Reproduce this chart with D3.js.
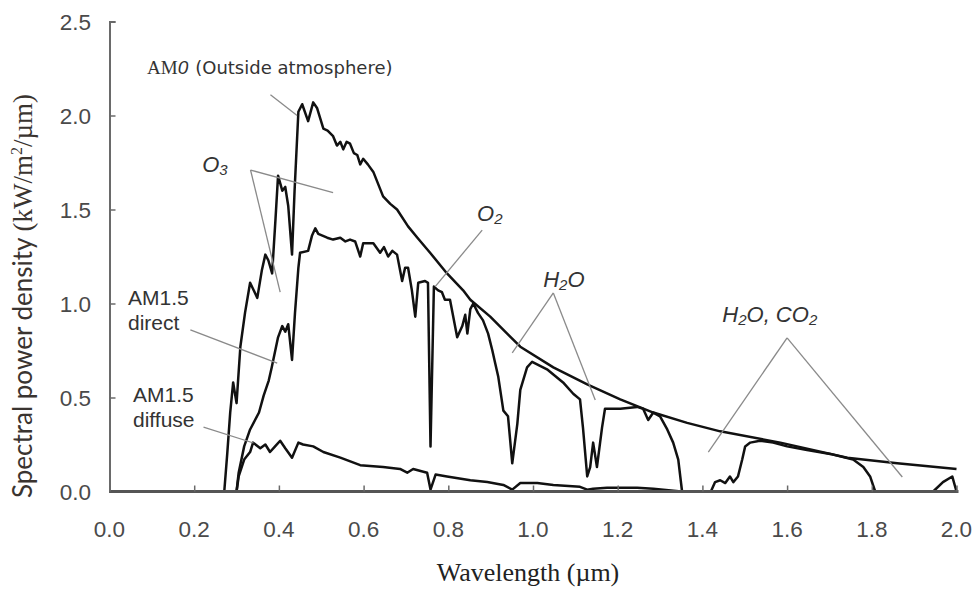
<!DOCTYPE html>
<html>
<head>
<meta charset="utf-8">
<script src="https://cdn.jsdelivr.net/npm/d3@7"></script>
<style>
  html, body { margin: 0; padding: 0; background: #fff; }
  svg { display: block; }
</style>
</head>
<body>
<svg id="chart" width="980" height="589"></svg>
<script>
// Solar spectral irradiance: extraterrestrial (AM0) and ground-level AM1.5 spectra.
// Each series is a list of [wavelength (µm), spectral power density (kW/m²/µm)].

const am0 = [
  [0.25, 0], [0.271, 0], [0.278, 0.2], [0.285, 0.42], [0.292, 0.58], [0.30, 0.47],
  [0.309, 0.77], [0.32, 0.95], [0.332, 1.11], [0.349, 1.03], [0.36, 1.18],
  [0.368, 1.26], [0.375, 1.23], [0.384, 1.16], [0.392, 1.45], [0.398, 1.68],
  [0.408, 1.60], [0.415, 1.62], [0.422, 1.52], [0.431, 1.26], [0.437, 1.60],
  [0.446, 2.02], [0.455, 2.06], [0.469, 1.97], [0.481, 2.07], [0.49, 2.04],
  [0.505, 1.93], [0.515, 1.92], [0.528, 1.89], [0.537, 1.84], [0.545, 1.86],
  [0.552, 1.82], [0.56, 1.86], [0.568, 1.85], [0.577, 1.80], [0.585, 1.79],
  [0.592, 1.74], [0.599, 1.77], [0.61, 1.74], [0.623, 1.70], [0.646, 1.57],
  [0.663, 1.53], [0.679, 1.50], [0.705, 1.41], [0.727, 1.35], [0.757, 1.27],
  [0.797, 1.16], [0.835, 1.07], [0.852, 1.02], [0.899, 0.93], [0.97, 0.77],
  [1.048, 0.66], [1.128, 0.57], [1.206, 0.49], [1.284, 0.42], [1.364, 0.365],
  [1.442, 0.32], [1.584, 0.26], [1.742, 0.18], [1.86, 0.15], [2.0, 0.12]
];

const am15Direct = [
  [0.25, 0], [0.30, 0], [0.305, 0.10], [0.318, 0.24], [0.332, 0.33], [0.353, 0.42],
  [0.364, 0.51], [0.376, 0.59], [0.383, 0.66], [0.398, 0.82], [0.408, 0.88],
  [0.415, 0.85], [0.422, 0.89], [0.431, 0.70], [0.438, 0.95], [0.446, 1.19],
  [0.45, 1.27], [0.469, 1.28], [0.478, 1.36], [0.486, 1.40], [0.493, 1.37],
  [0.514, 1.35], [0.528, 1.34], [0.545, 1.35], [0.557, 1.33], [0.568, 1.34],
  [0.58, 1.33], [0.592, 1.25], [0.599, 1.32], [0.623, 1.32], [0.639, 1.27],
  [0.648, 1.30], [0.658, 1.25], [0.668, 1.28], [0.679, 1.26], [0.691, 1.12],
  [0.698, 1.19], [0.705, 1.19], [0.714, 1.07], [0.722, 0.93], [0.729, 1.11],
  [0.745, 1.12], [0.752, 1.11], [0.758, 0.24], [0.766, 1.09], [0.776, 1.07],
  [0.785, 1.06], [0.792, 1.02], [0.804, 1.02], [0.821, 0.82], [0.833, 0.88],
  [0.84, 0.94], [0.845, 0.84], [0.852, 0.97], [0.859, 1.00], [0.87, 0.95],
  [0.882, 0.91], [0.894, 0.84], [0.904, 0.75], [0.911, 0.68], [0.918, 0.61],
  [0.93, 0.43], [0.941, 0.40], [0.951, 0.15], [0.963, 0.36], [0.97, 0.54],
  [0.986, 0.66], [0.998, 0.69], [1.033, 0.65], [1.071, 0.58], [1.095, 0.52],
  [1.111, 0.49], [1.118, 0.34], [1.128, 0.08], [1.135, 0.13], [1.142, 0.26],
  [1.151, 0.13], [1.163, 0.34], [1.17, 0.44], [1.206, 0.44], [1.246, 0.45],
  [1.26, 0.44], [1.272, 0.38], [1.284, 0.42], [1.30, 0.40], [1.317, 0.33],
  [1.331, 0.26], [1.343, 0.17], [1.352, 0], [1.42, 0], [1.43, 0.05],
  [1.442, 0.06], [1.454, 0.045], [1.465, 0.08], [1.473, 0.05], [1.484, 0.08],
  [1.494, 0.17], [1.501, 0.24], [1.513, 0.26], [1.536, 0.27], [1.567, 0.26],
  [1.60, 0.24], [1.647, 0.22], [1.702, 0.20], [1.756, 0.17], [1.78, 0.13],
  [1.796, 0.08], [1.808, 0], [1.945, 0], [1.968, 0.05], [1.99, 0.08], [2.0, 0]
];

const am15Diffuse = [
  [0.25, 0], [0.30, 0], [0.305, 0.08], [0.318, 0.17], [0.332, 0.21], [0.339, 0.26],
  [0.356, 0.23], [0.368, 0.25], [0.379, 0.21], [0.391, 0.24], [0.403, 0.27],
  [0.415, 0.23], [0.431, 0.18], [0.446, 0.26], [0.457, 0.25], [0.481, 0.24],
  [0.505, 0.21], [0.545, 0.18], [0.592, 0.14], [0.646, 0.13], [0.686, 0.12],
  [0.703, 0.10], [0.717, 0.12], [0.75, 0.10], [0.758, 0.01], [0.77, 0.09],
  [0.797, 0.08], [0.852, 0.06], [0.892, 0.05], [0.93, 0.035], [0.951, 0.01],
  [0.97, 0.045], [1.01, 0.045], [1.048, 0.035], [1.111, 0.025], [1.128, 0.01],
  [1.142, 0.015], [1.175, 0.02], [1.246, 0.02], [1.284, 0.015], [1.35, 0],
  [2.0, 0]
];

const xTicks = [0, 0.2, 0.4, 0.6, 0.8, 1.0, 1.2, 1.4, 1.6, 1.8, 2.0];
const yTicks = [0, 0.5, 1.0, 1.5, 2.0, 2.5];

// Absorption-band callouts: label anchor plus leader lines, in data units.
const callouts = [
  { parts: [{ t: "O", italic: true }, { t: "3", italic: true, sub: true }],
    at: [0.219, 1.70], from: [0.333, 1.71], to: [[0.528, 1.59], [0.403, 1.06]] },
  { parts: [{ t: "O", italic: true }, { t: "2", italic: true, sub: true }],
    at: [0.868, 1.44], from: [0.88, 1.39], to: [[0.769, 1.09]] },
  { parts: [{ t: "H", italic: true }, { t: "2", italic: true, sub: true }, { t: "O", italic: true }],
    at: [1.024, 1.09], from: [1.048, 1.056], to: [[0.951, 0.737], [1.147, 0.487]] },
  { parts: [{ t: "H", italic: true }, { t: "2", italic: true, sub: true }, { t: "O, CO", italic: true },
            { t: "2", italic: true, sub: true }],
    at: [1.447, 0.90], from: [1.60, 0.817], to: [[1.414, 0.21], [1.872, 0.077]] }
];

const svg = d3.select("#chart");

const x = d3.scaleLinear().domain([0, 2]).range([109.5, 956.5]);
const y = d3.scaleLinear().domain([0, 2.5]).range([491.5, 21.5]);

// Axes: ticks point inward, labels drawn separately for font control.
const axisColor = "#6a6a6a";
const yAxis = svg.append("g").attr("transform", `translate(${x(0)},0)`)
  .call(d3.axisLeft(y).tickValues(yTicks).tickSize(-6).tickFormat(""));
yAxis.select(".domain").attr("stroke", axisColor).attr("stroke-width", 2);
yAxis.selectAll(".tick line").attr("stroke", axisColor).attr("stroke-width", 1.5);

svg.append("g").selectAll("text").data(yTicks).join("text")
  .attr("x", 91).attr("y", d => y(d) + 8)
  .attr("text-anchor", "end")
  .attr("font-family", "Liberation Sans, Arial, sans-serif")
  .attr("font-size", 22.5).attr("fill", "#4a4a4a")
  .text(d => d.toFixed(1));

svg.append("g").selectAll("text").data(xTicks).join("text")
  .attr("x", d => x(d)).attr("y", 537)
  .attr("text-anchor", "middle")
  .attr("font-family", "Liberation Sans, Arial, sans-serif")
  .attr("font-size", 22.5).attr("fill", "#4a4a4a")
  .text(d => d.toFixed(1));

// Spectrum curves
const line = d3.line().x(d => x(d[0])).y(d => y(d[1])).curve(d3.curveLinear);
const curves = svg.append("g").attr("fill", "none").attr("stroke", "#111")
  .attr("stroke-width", 2.5).attr("stroke-linejoin", "round");
[am15Diffuse, am15Direct, am0].forEach(s => curves.append("path").attr("d", line(s)));

const xAxis = svg.append("g").attr("transform", `translate(0,${y(0)})`)
  .call(d3.axisBottom(x).tickValues(xTicks).tickSize(-6).tickFormat(""));
xAxis.select(".domain").attr("stroke", "#555").attr("stroke-width", 3)
  .attr("d", `M${x(0)},0H${x(2) + 2}`);
xAxis.selectAll(".tick line").attr("stroke", axisColor).attr("stroke-width", 1.5);

// Leader lines
const leaders = svg.append("g").attr("stroke", "#8a8a8a").attr("stroke-width", 1.3).attr("fill", "none");
function leader(a, b) {
  leaders.append("line").attr("x1", x(a[0])).attr("y1", y(a[1]))
    .attr("x2", x(b[0])).attr("y2", y(b[1]));
}
callouts.forEach(c => c.to.forEach(t => leader(c.from, t)));
leader([0.38, 2.11], [0.443, 2.0]);      // AM0
leader([0.191, 0.86], [0.396, 0.683]);   // AM1.5 direct
leader([0.222, 0.343], [0.34, 0.258]);   // AM1.5 diffuse

// Callout labels
const labelFont = "Liberation Sans, Arial, sans-serif";
callouts.forEach(c => {
  const t = svg.append("text")
    .attr("x", x(c.at[0])).attr("y", y(c.at[1]))
    .attr("font-family", labelFont).attr("font-size", 22).attr("fill", "#333");
  c.parts.forEach(p => {
    const ts = t.append("tspan").text(p.t).attr("font-style", p.italic ? "italic" : null);
    if (p.sub) ts.attr("font-size", 15).attr("dy", 3);
    else if (t.selectAll("tspan").size() > 1) ts.attr("dy", -3);
  });
});

// Curve name labels
function twoLine(a, b, px, py) {
  const t = svg.append("text").attr("font-family", labelFont).attr("font-size", 21)
    .attr("fill", "#333");
  t.append("tspan").attr("x", px).attr("y", py).text(a);
  t.append("tspan").attr("x", px).attr("y", py + 25).text(b);
}
twoLine("AM1.5", "direct", 128, 305);
twoLine("AM1.5", "diffuse", 133, 402);

const am0Label = svg.append("text").attr("x", 147).attr("y", 74).attr("fill", "#333");
am0Label.append("tspan").attr("font-family", "Liberation Serif, Times New Roman, serif")
  .attr("font-size", 19).text("AM");
am0Label.append("tspan").attr("font-family", labelFont).attr("font-style", "italic")
  .attr("font-size", 19).text("0");
am0Label.append("tspan").attr("font-family", "DejaVu Sans, sans-serif")
  .attr("font-size", 18).attr("dx", 7).text("(Outside atmosphere)");

// Axis titles
svg.append("text")
  .attr("x", 528).attr("y", 581).attr("text-anchor", "middle")
  .attr("font-family", "Liberation Serif, Times New Roman, serif")
  .attr("font-size", 26).attr("fill", "#222")
  .text("Wavelength (µm)");

const yTitle = svg.append("text")
  .attr("transform", "translate(32,296) rotate(-90)")
  .attr("text-anchor", "middle").attr("fill", "#3a3430");
yTitle.append("tspan").attr("font-family", "Lato, Open Sans, sans-serif").attr("font-size", 26)
  .text("Spectral power density ");
yTitle.append("tspan").attr("font-family", "Liberation Serif, Times New Roman, serif")
  .attr("font-size", 27).text("(kW/m");
yTitle.append("tspan").attr("font-family", "Liberation Serif, Times New Roman, serif")
  .attr("font-size", 16).attr("dy", -10).text("2");
yTitle.append("tspan").attr("font-family", "Liberation Serif, Times New Roman, serif")
  .attr("font-size", 27).attr("dy", 10).text("/µm)");
</script>
</body>
</html>
